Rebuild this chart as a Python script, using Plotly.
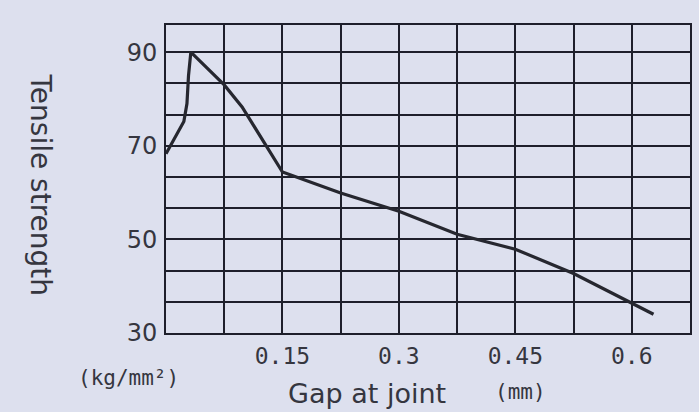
import plotly.graph_objects as go

# Data
gap_mm = [0.0, 0.023, 0.027, 0.029, 0.032, 0.075, 0.098, 0.150, 0.225, 0.300, 0.375, 0.450, 0.525, 0.600, 0.628]
tensile = [68.3, 75.2, 79.0, 85.0, 90.0, 83.0, 78.3, 64.4, 59.9, 56.0, 51.1, 47.9, 42.7, 36.5, 34.0]

x_grid = [0.0, 0.075, 0.15, 0.225, 0.3, 0.375, 0.45, 0.525, 0.6, 0.675]
x_labels = ["", "", "0.15", "", "0.3", "", "0.45", "", "0.6", ""]
y_grid = [30, 36.667, 43.333, 50, 56.667, 63.333, 70, 76.667, 83.333, 90]
y_labels = ["30", "", "", "50", "", "", "70", "", "", "90"]

BG = "#dde0ee"
INK = "#1e1f2b"
TXT = "#35363f"

fig = go.Figure()
fig.add_trace(go.Scatter(x=gap_mm, y=tensile, mode="lines",
                         line=dict(color="#26272f", width=3.2), showlegend=False))

fig.update_layout(
    width=699, height=412,
    margin=dict(l=166, r=7, t=25, b=79),
    paper_bgcolor=BG, plot_bgcolor=BG,
    font=dict(family="DejaVu Sans", color=TXT),
)
fig.update_xaxes(range=[0, 0.675], tickvals=x_grid, ticktext=x_labels,
                 showgrid=True, gridcolor=INK, gridwidth=2,
                 showline=True, linecolor=INK, linewidth=2, mirror=True,
                 zeroline=False, ticks="", ticklabelstandoff=1,
                 tickfont=dict(family="DejaVu Sans Mono", size=23, color=TXT))
fig.update_yaxes(range=[30, 95.8], tickvals=y_grid, ticktext=y_labels,
                 showgrid=True, gridcolor=INK, gridwidth=2,
                 showline=True, linecolor=INK, linewidth=2, mirror=True,
                 zeroline=False, ticks="", ticklabelstandoff=2,
                 tickfont=dict(family="DejaVu Sans", size=24, color=TXT))

def px(xp, yp):
    return (xp - 166) / 526, (333 - yp) / 308

annots = [
    ("Tensile strength", 40, 185, 28, "DejaVu Sans", 90),
    ("Gap at joint", 368, 393, 27, "DejaVu Sans", 0),
    ("(mm)", 522, 392, 21, "DejaVu Sans Mono", 0),
    ("(kg/mm²)", 128, 378, 21, "DejaVu Sans Mono", 0),
]
for text, xp, yp, size, fam, ang in annots:
    ax, ay = px(xp, yp)
    fig.add_annotation(text=text, x=ax, y=ay, xref="paper", yref="paper",
                       xanchor="center", yanchor="middle", showarrow=False,
                       textangle=ang, font=dict(family=fam, size=size, color=TXT))

fig.write_html("out.html", config={"displayModeBar": False},
               post_script="document.body.style.margin='0';document.body.style.background='%s';" % BG)
